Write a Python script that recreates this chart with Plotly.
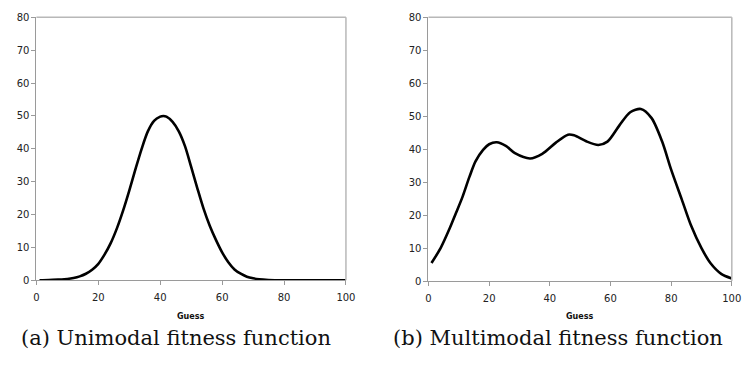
import plotly.graph_objects as go

# Unimodal fitness function
uni_x = [1, 4, 7, 10, 12, 14, 16, 18, 20, 22, 24, 26, 28, 30, 32, 34, 36, 38, 40, 41,
         42, 44, 46, 48, 50, 52, 54, 56, 58, 60, 62, 64, 66, 68, 70, 72, 75, 80, 90, 100]
uni_y = [0.0, 0.05, 0.2, 0.4, 0.7, 1.2, 2.0, 3.2, 5.0, 7.8, 11.3, 15.8, 21.2, 27.3, 33.8, 40.0, 45.3, 48.5, 49.8, 50.0,
         49.8, 48.2, 45.3, 40.8, 34.5, 28.0, 21.8, 16.6, 12.3, 8.5, 5.5, 3.3, 2.0, 1.1, 0.6, 0.3, 0.1, 0.0, 0.0, 0.0]

# Multimodal fitness function
multi_x = [1, 4, 7, 9, 11, 13.5, 15.5, 18, 20, 22.5, 25.5, 28.5, 33.5, 37.5, 42, 46, 48, 52, 56,
           59, 63, 66.5, 70, 73.5, 77, 80, 83.5, 86.5, 90, 93, 96.5, 100]
multi_y = [5.5, 10.0, 16.0, 20.5, 25.0, 31.6, 36.3, 39.8, 41.5, 42.1, 41.0, 38.8, 37.2, 38.6, 42.0, 44.4, 44.2, 42.4, 41.3,
           42.3, 47.3, 51.2, 52.2, 49.5, 42.4, 33.8, 24.8, 17.0, 10.0, 5.4, 2.2, 0.8]

x_ticks = [0, 20, 40, 60, 80, 100]
y_ticks = [0, 10, 20, 30, 40, 50, 60, 70, 80]
x_title = "Guess"
captions = ["(a) Unimodal fitness function", "(b) Multimodal fitness function"]

W, H = 748, 372
fig = go.Figure()
fig.add_trace(go.Scatter(x=uni_x, y=uni_y, mode="lines", line=dict(color="black", width=2.6, shape="spline", smoothing=0.8),
                         xaxis="x", yaxis="y", showlegend=False, hoverinfo="skip"))
fig.add_trace(go.Scatter(x=multi_x, y=multi_y, mode="lines", line=dict(color="black", width=2.6, shape="spline", smoothing=0.8),
                         xaxis="x2", yaxis="y2", showlegend=False, hoverinfo="skip"))

tickfont = dict(family="DejaVu Sans", size=10, color="#222222")
ax_common = dict(showgrid=False, zeroline=False, showline=True, linecolor="#9a9a9a", linewidth=1,
                 ticks="outside", ticklen=4, tickcolor="#9a9a9a", tickwidth=1, tickfont=tickfont, mirror=False)

def px2x(p):
    return p / W

def px2y(p):
    return (H - p) / H

fig.update_layout(
    width=W, height=H, margin=dict(l=0, r=0, t=0, b=0),
    paper_bgcolor="white", plot_bgcolor="white",
    xaxis=dict(domain=[px2x(34), px2x(349)], range=[0, 100], tickvals=x_ticks, anchor="y",
               ticklabelstandoff=4, **ax_common),
    yaxis=dict(domain=[px2y(283.7), px2y(12.7)], range=[0, 80], tickvals=y_ticks, anchor="x", **ax_common),
    xaxis2=dict(domain=[px2x(433), px2x(741.7)], range=[0, 100], tickvals=x_ticks, anchor="y2",
                ticklabelstandoff=4, **ax_common),
    yaxis2=dict(domain=[px2y(284.5), px2y(12.7)], range=[0, 80], tickvals=y_ticks, anchor="x2", **ax_common),
)

# top/right borders of plot areas
for xa, ya in [("x", "y"), ("x2", "y2")]:
    fig.add_shape(type="line", xref=xa + " domain", yref=ya + " domain", x0=0, x1=1, y0=1, y1=1,
                  line=dict(color="#b8b8b8", width=1.5))
    fig.add_shape(type="line", xref=xa + " domain", yref=ya + " domain", x0=1, x1=1, y0=0, y1=1,
                  line=dict(color="#b8b8b8", width=1.5))

for cx in (191, 587):
    fig.add_annotation(x=px2x(cx), y=px2y(321), xref="paper", yref="paper", text="<b>" + x_title + "</b>",
                       xanchor="center", yanchor="middle",
                       showarrow=False, font=dict(family="DejaVu Sans", size=8, color="#111111"))
fig.add_annotation(x=px2x(16), y=px2y(343), xref="paper", yref="paper", text=captions[0],
                   xanchor="left", yanchor="middle",
                   showarrow=False, font=dict(family="DejaVu Serif", size=21, color="#111111"))
fig.add_annotation(x=px2x(395), y=px2y(343), xref="paper", yref="paper", text=captions[1],
                   xanchor="left", yanchor="middle",
                   showarrow=False, font=dict(family="DejaVu Serif", size=21, color="#111111"))

fig.write_html("out.html")
